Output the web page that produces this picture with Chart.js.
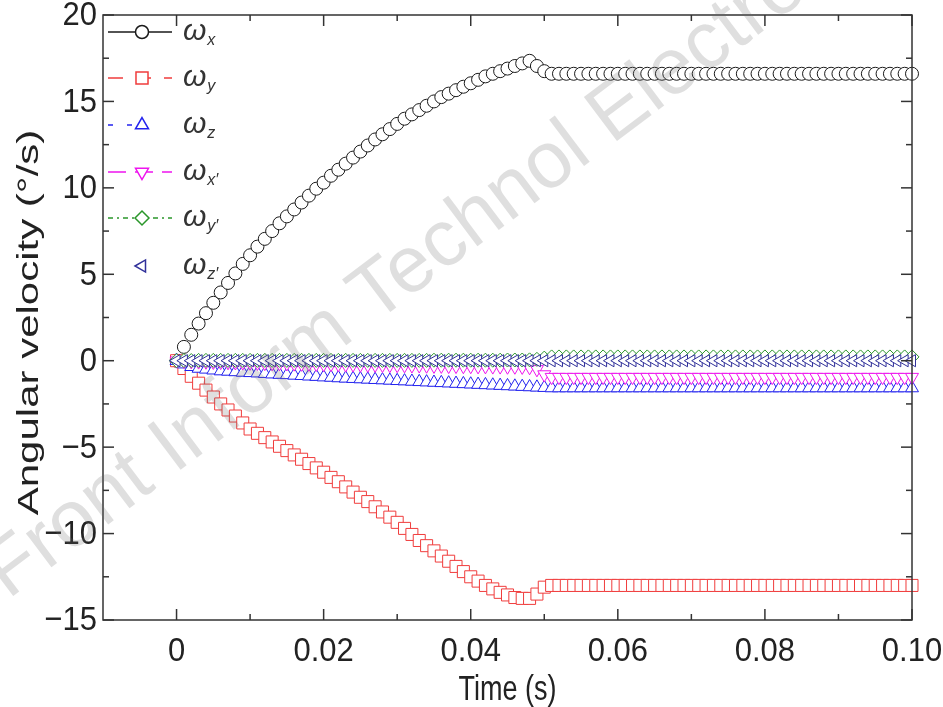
<!DOCTYPE html>
<html>
<head>
<meta charset="utf-8">
<title>Angular velocity</title>
<script src="https://cdn.jsdelivr.net/npm/chart.js@4.4.1/dist/chart.umd.min.js"></script>
<style>
  html, body { margin: 0; padding: 0; background: #fff; }
  #wrap { width: 943px; height: 707px; }
</style>
</head>
<body>
<div id="wrap"><canvas id="chart" width="943" height="707"></canvas></div>
<script>
// time samples (s)
const timeS = [
  0.000, 0.001, 0.002, 0.003, 0.004, 0.005, 0.006, 0.007, 0.008, 0.009,
  0.010, 0.011, 0.012, 0.013, 0.014, 0.015, 0.016, 0.017, 0.018, 0.019,
  0.020, 0.021, 0.022, 0.023, 0.024, 0.025, 0.026, 0.027, 0.028, 0.029,
  0.030, 0.031, 0.032, 0.033, 0.034, 0.035, 0.036, 0.037, 0.038, 0.039,
  0.040, 0.041, 0.042, 0.043, 0.044, 0.045, 0.046, 0.047, 0.048, 0.049,
  0.050, 0.051, 0.052, 0.053, 0.054, 0.055, 0.056, 0.057, 0.058, 0.059,
  0.060, 0.061, 0.062, 0.063, 0.064, 0.065, 0.066, 0.067, 0.068, 0.069,
  0.070, 0.071, 0.072, 0.073, 0.074, 0.075, 0.076, 0.077, 0.078, 0.079,
  0.080, 0.081, 0.082, 0.083, 0.084, 0.085, 0.086, 0.087, 0.088, 0.089,
  0.090, 0.091, 0.092, 0.093, 0.094, 0.095, 0.096, 0.097, 0.098, 0.099,
  0.100
];

// angular velocities (deg/s)
const omegaX = [
  0, 0.8, 1.5, 2.15, 2.75, 3.35, 3.95, 4.5, 5.05, 5.6,
  6.1, 6.6, 7.05, 7.5, 7.95, 8.35, 8.75, 9.15, 9.55, 9.95,
  10.3, 10.7, 11.05, 11.4, 11.75, 12.1, 12.45, 12.8, 13.1, 13.4,
  13.7, 14.0, 14.25, 14.5, 14.75, 15.0, 15.25, 15.45, 15.65, 15.85,
  16.05, 16.25, 16.45, 16.6, 16.75, 16.9, 17.05, 17.2, 17.35, 17.05,
  16.75, 16.6, 16.6, 16.6, 16.6, 16.6, 16.6, 16.6, 16.6, 16.6,
  16.6, 16.6, 16.6, 16.6, 16.6, 16.6, 16.6, 16.6, 16.6, 16.6,
  16.6, 16.6, 16.6, 16.6, 16.6, 16.6, 16.6, 16.6, 16.6, 16.6,
  16.6, 16.6, 16.6, 16.6, 16.6, 16.6, 16.6, 16.6, 16.6, 16.6,
  16.6, 16.6, 16.6, 16.6, 16.6, 16.6, 16.6, 16.6, 16.6, 16.6,
  16.6
];
const omegaY = [
  0, -0.45, -0.9, -1.3, -1.7, -2.1, -2.5, -2.85, -3.2, -3.6,
  -3.95, -4.2, -4.45, -4.7, -4.95, -5.2, -5.45, -5.7, -5.95, -6.2,
  -6.45, -6.75, -7.0, -7.3, -7.6, -7.9, -8.15, -8.45, -8.75, -9.05,
  -9.35, -9.7, -10.05, -10.4, -10.7, -11.0, -11.3, -11.6, -11.9, -12.2,
  -12.5, -12.75, -13.0, -13.2, -13.4, -13.55, -13.7, -13.75, -13.75, -13.5,
  -13.1, -13.0, -13.0, -13.0, -13.0, -13.0, -13.0, -13.0, -13.0, -13.0,
  -13.0, -13.0, -13.0, -13.0, -13.0, -13.0, -13.0, -13.0, -13.0, -13.0,
  -13.0, -13.0, -13.0, -13.0, -13.0, -13.0, -13.0, -13.0, -13.0, -13.0,
  -13.0, -13.0, -13.0, -13.0, -13.0, -13.0, -13.0, -13.0, -13.0, -13.0,
  -13.0, -13.0, -13.0, -13.0, -13.0, -13.0, -13.0, -13.0, -13.0, -13.0,
  -13.0
];
const omegaZ = [
  0, -0.2, -0.35, -0.45, -0.5, -0.55, -0.6, -0.62, -0.65, -0.68,
  -0.7, -0.72, -0.75, -0.78, -0.8, -0.82, -0.85, -0.87, -0.9, -0.92,
  -0.95, -0.97, -1.0, -1.02, -1.04, -1.06, -1.08, -1.1, -1.12, -1.14,
  -1.16, -1.18, -1.2, -1.22, -1.24, -1.26, -1.28, -1.3, -1.32, -1.34,
  -1.36, -1.38, -1.4, -1.42, -1.44, -1.46, -1.48, -1.5, -1.52, -1.54,
  -1.56, -1.58, -1.58, -1.58, -1.58, -1.58, -1.58, -1.58, -1.58, -1.58,
  -1.58, -1.58, -1.58, -1.58, -1.58, -1.58, -1.58, -1.58, -1.58, -1.58,
  -1.58, -1.58, -1.58, -1.58, -1.58, -1.58, -1.58, -1.58, -1.58, -1.58,
  -1.58, -1.58, -1.58, -1.58, -1.58, -1.58, -1.58, -1.58, -1.58, -1.58,
  -1.58, -1.58, -1.58, -1.58, -1.58, -1.58, -1.58, -1.58, -1.58, -1.58,
  -1.58
];
const omegaXp = [
  0, -0.02, -0.04, -0.05, -0.06, -0.07, -0.08, -0.09, -0.1, -0.11,
  -0.12, -0.13, -0.14, -0.15, -0.15, -0.16, -0.17, -0.18, -0.18, -0.19,
  -0.2, -0.2, -0.21, -0.22, -0.22, -0.23, -0.24, -0.24, -0.25, -0.26,
  -0.26, -0.27, -0.28, -0.28, -0.29, -0.3, -0.3, -0.31, -0.31, -0.32,
  -0.32, -0.33, -0.33, -0.34, -0.34, -0.35, -0.35, -0.36, -0.38, -0.5,
  -0.8, -0.95, -0.95, -0.95, -0.95, -0.95, -0.95, -0.95, -0.95, -0.95,
  -0.95, -0.95, -0.95, -0.95, -0.95, -0.95, -0.95, -0.95, -0.95, -0.95,
  -0.95, -0.95, -0.95, -0.95, -0.95, -0.95, -0.95, -0.95, -0.95, -0.95,
  -0.95, -0.95, -0.95, -0.95, -0.95, -0.95, -0.95, -0.95, -0.95, -0.95,
  -0.95, -0.95, -0.95, -0.95, -0.95, -0.95, -0.95, -0.95, -0.95, -0.95,
  -0.95
];
const omegaYp = [
  0, 0.01, 0.01, 0.02, 0.02, 0.02, 0.02, 0.02, 0.02, 0.02,
  0.02, 0.02, 0.02, 0.02, 0.02, 0.02, 0.02, 0.02, 0.02, 0.02,
  0.02, 0.02, 0.02, 0.02, 0.02, 0.02, 0.02, 0.02, 0.02, 0.02,
  0.02, 0.02, 0.02, 0.02, 0.02, 0.03, 0.03, 0.03, 0.03, 0.03,
  0.03, 0.03, 0.03, 0.03, 0.03, 0.04, 0.04, 0.04, 0.05, 0.08,
  0.15, 0.22, 0.22, 0.22, 0.22, 0.22, 0.22, 0.22, 0.22, 0.22,
  0.22, 0.22, 0.22, 0.22, 0.22, 0.22, 0.22, 0.22, 0.22, 0.22,
  0.22, 0.22, 0.22, 0.22, 0.22, 0.22, 0.22, 0.22, 0.22, 0.22,
  0.22, 0.22, 0.22, 0.22, 0.22, 0.22, 0.22, 0.22, 0.22, 0.22,
  0.22, 0.22, 0.22, 0.22, 0.22, 0.22, 0.22, 0.22, 0.22, 0.22,
  0.22
];
const omegaZp = [
  0, 0, 0, 0, 0, 0, 0, 0, 0, 0,
  0, 0, 0, 0, 0, 0, 0, 0, 0, 0,
  0, 0, 0, 0, 0, 0, 0, 0, 0, 0,
  0, 0, 0, 0, 0, 0, 0, 0, 0, 0,
  0, 0, 0, 0, 0, 0, 0, 0, 0, 0,
  0, 0, 0, 0, 0, 0, 0, 0, 0, 0,
  0, 0, 0, 0, 0, 0, 0, 0, 0, 0,
  0, 0, 0, 0, 0, 0, 0, 0, 0, 0,
  0, 0, 0, 0, 0, 0, 0, 0, 0, 0,
  0, 0, 0, 0, 0, 0, 0, 0, 0, 0,
  0
];

const seriesSubs = ['x', 'y', 'z', 'x\u2032', 'y\u2032', 'z\u2032'];

// axis ticks
const xTicks = [0, 0.02, 0.04, 0.06, 0.08, 0.1];
const xTickLabels = ['0', '0.02', '0.04', '0.06', '0.08', '0.10'];
const xMinorTicks = [0.01, 0.03, 0.05, 0.07, 0.09];
const yTicks = [-15, -10, -5, 0, 5, 10, 15, 20];
const yTickLabels = ['\u221215', '\u221210', '\u22125', '0', '5', '10', '15', '20'];
const yMinorTicks = [-12.5, -7.5, -2.5, 2.5, 7.5, 12.5, 17.5];

const FONT = "'Liberation Sans', Arial, Helvetica, sans-serif";
const TEXT = '#222';
const AXIS = '#333';

// marker / line style per series
const styles = [
  { color: '#1a1a1a', point: 'circle',   radius: 6.5, rotation: 0,   dash: [],           lineTo: 172 },
  { color: '#f03c3c', point: 'rect',     radius: 8.5, rotation: 0,   dash: [15, 13],     lineTo: 172 },
  { color: '#2323ee', point: 'triangle', radius: 7.5, rotation: 0,   dash: [5, 14],      lineTo: 134 },
  { color: '#ee14ee', point: 'triangle', radius: 7.5, rotation: 180, dash: [18, 9],      lineTo: 172 },
  { color: '#2a962a', point: 'rectRot',  radius: 7,   rotation: 0,   dash: [5, 4, 2, 4], lineTo: 172 },
  { color: '#30309a', point: 'triangle', radius: 7,   rotation: -90, dash: null,         lineTo: 0 }
];

const seriesData = [omegaX, omegaY, omegaZ, omegaXp, omegaYp, omegaZp];

const datasets = seriesData.map((vals, i) => ({
  label: '\u03c9' + seriesSubs[i],
  data: timeS.map((t, k) => ({ x: t, y: vals[k] })),
  showLine: false,
  pointStyle: styles[i].point,
  pointRadius: styles[i].radius,
  pointRotation: styles[i].rotation,
  pointBorderWidth: 1,
  pointBorderColor: styles[i].color,
  pointBackgroundColor: '#fff',
  clip: false,
  order: 6 - i
}));

// text drawn with a slight stretch, like the original figure
function stretchText(ctx, text, x, y, opts) {
  ctx.save();
  ctx.translate(x, y);
  if (opts.rotate) ctx.rotate(opts.rotate);
  ctx.scale(opts.sx || 1, opts.sy || 1);
  ctx.font = opts.font;
  ctx.fillStyle = TEXT;
  ctx.textAlign = opts.align || 'center';
  ctx.textBaseline = 'middle';
  ctx.fillText(text, 0, 0);
  ctx.restore();
}

// box + inward ticks on all four sides
const frameTicks = {
  id: 'frameTicks',
  afterDatasetsDraw(chart) {
    const { ctx, chartArea: a, scales: { x, y } } = chart;
    ctx.save();
    ctx.strokeStyle = AXIS;
    ctx.lineWidth = 1.5;
    ctx.strokeRect(a.left, a.top, a.right - a.left, a.bottom - a.top);
    const seg = (x1, y1, x2, y2) => {
      ctx.beginPath();
      ctx.moveTo(x1, y1);
      ctx.lineTo(x2, y2);
      ctx.stroke();
    };
    const xMarks = (vals, len) => vals.forEach(v => {
      const px = x.getPixelForValue(v);
      seg(px, a.bottom, px, a.bottom - len);
      seg(px, a.top, px, a.top + len);
    });
    const yMarks = (vals, len) => vals.forEach(v => {
      const py = y.getPixelForValue(v);
      seg(a.left, py, a.left + len, py);
      seg(a.right, py, a.right - len, py);
    });
    xMarks(xTicks, 11);
    xMarks(xMinorTicks, 6);
    yMarks(yTicks, 11);
    yMarks(yMinorTicks, 6);
    ctx.restore();
  }
};

// tick labels and axis titles
const axisText = {
  id: 'axisText',
  afterDraw(chart) {
    const { ctx, chartArea: a, scales: { x, y } } = chart;
    const tickFont = '31px ' + FONT;
    xTicks.forEach((v, i) => {
      stretchText(ctx, xTickLabels[i], x.getPixelForValue(v), a.bottom + 32, { font: tickFont, sy: 1.1 });
    });
    yTicks.forEach((v, i) => {
      stretchText(ctx, yTickLabels[i], a.left - 6, y.getPixelForValue(v) + 1, { font: tickFont, sy: 1.1, align: 'right' });
    });
    stretchText(ctx, 'Time (s)', (a.left + a.right) / 2, 690, { font: '27px ' + FONT, sy: 1.3 });
    stretchText(ctx, 'Angular velocity (\u00b0/s)', 30, (a.top + a.bottom) / 2 + 5,
      { font: '30px ' + FONT, sx: 1.4, rotate: -Math.PI / 2 });
  }
};

// legend drawn inside the plot, top left
const innerLegend = {
  id: 'innerLegend',
  afterDatasetsDraw(chart) {
    const { ctx } = chart;
    const rows = [32, 78, 125, 172, 218, 266];
    ctx.save();
    styles.forEach((s, i) => {
      const yy = rows[i];
      if (s.dash) {
        ctx.strokeStyle = s.color;
        ctx.lineWidth = 1.5;
        ctx.setLineDash(s.dash);
        ctx.beginPath();
        ctx.moveTo(108, yy);
        ctx.lineTo(s.lineTo, yy);
        ctx.stroke();
        ctx.setLineDash([]);
      }
      ctx.fillStyle = '#fff';
      ctx.strokeStyle = s.color;
      ctx.lineWidth = 1.5;
      Chart.helpers.drawPoint(ctx, {
        pointStyle: s.point, radius: s.radius, rotation: s.rotation, borderWidth: 1.5
      }, 142, yy);

      ctx.fillStyle = '#333';
      ctx.textBaseline = 'alphabetic';
      ctx.font = 'italic 30px ' + FONT;
      ctx.fillText('\u03c9', 183, yy + 8);
      const w = ctx.measureText('\u03c9').width;
      ctx.font = 'italic 16px ' + FONT;
      ctx.fillText(seriesSubs[i], 183 + w + 1, yy + 13);
    });
    ctx.restore();
  }
};

// faint journal watermark across the plot
const watermark = {
  id: 'watermark',
  afterDraw(chart) {
    const { ctx } = chart;
    ctx.save();
    ctx.translate(8, 600);
    ctx.rotate(-37 * Math.PI / 180);
    ctx.font = '80px ' + FONT;
    ctx.fillStyle = 'rgba(110,110,110,0.22)';
    ctx.textBaseline = 'alphabetic';
    ctx.fillText('Front Inform Technol Electron Eng', 0, 0);
    ctx.restore();
  }
};

new Chart(document.getElementById('chart'), {
  type: 'scatter',
  data: { datasets },
  options: {
    responsive: false,
    animation: false,
    devicePixelRatio: 1,
    layout: { padding: { top: 15, right: 31, left: 0, bottom: 0 } },
    plugins: {
      legend: { display: false },
      tooltip: { enabled: false }
    },
    scales: {
      x: {
        type: 'linear',
        min: -0.01,
        max: 0.1,
        grid: { display: false, drawTicks: false },
        border: { display: false },
        afterBuildTicks: s => { s.ticks = xTicks.map(v => ({ value: v })); },
        afterFit: s => { s.height = 87; },
        ticks: { display: false },
        title: { display: false }
      },
      y: {
        type: 'linear',
        min: -15,
        max: 20,
        grid: { display: false, drawTicks: false },
        border: { display: false },
        afterBuildTicks: s => { s.ticks = yTicks.map(v => ({ value: v })); },
        afterFit: s => { s.width = 103; },
        ticks: { display: false },
        title: { display: false }
      }
    }
  },
  plugins: [frameTicks, innerLegend, axisText, watermark]
});
</script>
</body>
</html>
